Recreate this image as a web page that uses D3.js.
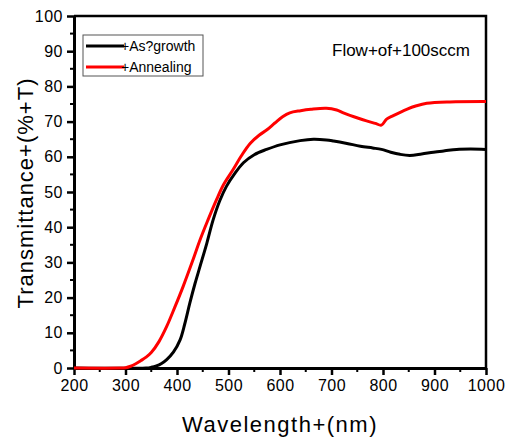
<!DOCTYPE html>
<html>
<head>
<meta charset="utf-8">
<script src="https://cdn.jsdelivr.net/npm/d3@7"></script>
<style>
  body { margin: 0; background: #fff; }
  text { font-family: "Liberation Sans", Arial, sans-serif; fill: #000; }
</style>
</head>
<body>
<div id="chart"></div>
<script>
var width = 506,
  height = 439;

// as-grown sample
var grownWl = [200, 340, 350, 360, 370, 380, 393, 406, 415, 425, 435, 445, 458, 470, 483, 496, 512, 529, 550, 574, 600, 639, 665, 690, 704, 730, 756, 780, 797, 815, 833, 852, 875, 898, 920, 943, 970, 1000];
var grownT = [0, 0, 0.2, 0.6, 1.3, 2.4, 4.5, 8, 12.5, 18.5, 24, 29, 35.5, 42, 47.5, 51.6, 55.2, 58.3, 60.6, 62.1, 63.4, 64.6, 65, 64.8, 64.5, 63.8, 63, 62.5, 62.1, 61.3, 60.7, 60.4, 60.8, 61.3, 61.7, 62.1, 62.2, 62.1];

// annealed sample
var annealWl = [200, 290, 300, 310, 320, 330, 340, 350, 365, 380, 395, 412, 430, 445, 460, 477, 490, 509, 525, 542, 560, 574, 590, 605, 619, 640, 660, 690, 710, 723, 745, 768, 785, 797, 807, 820, 846, 865, 885, 930, 1000];
var annealT = [0, 0, 0.1, 0.5, 1.2, 2.1, 3.1, 4.4, 7.5, 11.8, 17, 23.2, 30.3, 36.5, 42, 47.9, 52, 56.4, 60.3, 63.8, 66.2, 67.6, 69.6, 71.4, 72.5, 73.1, 73.5, 73.8, 73.3, 72.5, 71.3, 70.2, 69.5, 69.0, 70.7, 71.7, 73.5, 74.5, 75.2, 75.6, 75.7];

var xTicks = [200, 300, 400, 500, 600, 700, 800, 900, 1000];
var yTicks = [0, 10, 20, 30, 40, 50, 60, 70, 80, 90, 100];
var seriesNames = ["+As?growth", "+Annealing"];
var seriesColors = ["#000000", "#ff0000"];
var note = "Flow+of+100sccm";

var margin = { left: 74, right: 20, top: 16, bottom: 71 };

var svg = d3.select("#chart")
  .append("svg")
  .attr("width", width)
  .attr("height", height);

var x = d3.scaleLinear().domain([200, 1000]).range([margin.left, width - margin.right]);
var y = d3.scaleLinear().domain([0, 100]).range([height - margin.bottom, margin.top]);

var line = d3.line()
  .x(function (d) { return x(d[0]); })
  .y(function (d) { return y(d[1]); })
  .curve(d3.curveCatmullRom.alpha(0.5));

var series = [d3.zip(grownWl, grownT), d3.zip(annealWl, annealT)];

// frame (top / right)
svg.append("path")
  .attr("d", "M" + x(200) + "," + y(100) + "H" + x(1000) + "V" + y(0))
  .attr("fill", "none")
  .attr("stroke", "#000")
  .attr("stroke-width", 2.5);

// minor ticks
var xMinor = d3.range(250, 1000, 100);
var yMinor = d3.range(5, 100, 10);

svg.append("g").selectAll("line")
  .data(xMinor).enter().append("line")
  .attr("x1", function (d) { return x(d); })
  .attr("x2", function (d) { return x(d); })
  .attr("y1", y(0))
  .attr("y2", y(0) + 4)
  .attr("stroke", "#000")
  .attr("stroke-width", 2);

svg.append("g").selectAll("line")
  .data(yMinor).enter().append("line")
  .attr("y1", function (d) { return y(d); })
  .attr("y2", function (d) { return y(d); })
  .attr("x1", x(200))
  .attr("x2", x(200) - 4)
  .attr("stroke", "#000")
  .attr("stroke-width", 2);

var xAxis = svg.append("g")
  .attr("transform", "translate(0," + y(0) + ")")
  .call(d3.axisBottom(x).tickValues(xTicks).tickFormat(d3.format("d")).tickSize(7).tickPadding(5).tickSizeOuter(0));

var yAxis = svg.append("g")
  .attr("transform", "translate(" + x(200) + ",0)")
  .call(d3.axisLeft(y).tickValues(yTicks).tickFormat(d3.format("d")).tickSize(7).tickPadding(4).tickSizeOuter(0));

[xAxis, yAxis].forEach(function (g) {
  g.select(".domain").attr("stroke-width", 3);
  g.selectAll(".tick line").attr("stroke-width", 2.5);
  g.selectAll(".tick text")
    .style("font-size", "16px")
    .style("letter-spacing", "0.5px")
    .style("font-family", "Liberation Sans, Arial, sans-serif");
});

// curves
svg.append("g").selectAll("path")
  .data(series).enter().append("path")
  .attr("d", line)
  .attr("fill", "none")
  .attr("stroke", function (d, i) { return seriesColors[i]; })
  .attr("stroke-width", 3)
  .attr("stroke-linejoin", "round");

// legend
var legend = svg.append("g");
legend.append("rect")
  .attr("x", 83).attr("y", 35)
  .attr("width", 120).attr("height", 41)
  .attr("fill", "#fff")
  .attr("stroke", "#555")
  .attr("stroke-width", 1);

seriesNames.forEach(function (name, i) {
  var ly = 46 + i * 21;
  legend.append("line")
    .attr("x1", 86).attr("x2", 124)
    .attr("y1", ly).attr("y2", ly)
    .attr("stroke", seriesColors[i])
    .attr("stroke-width", 3);
  legend.append("text")
    .attr("x", 121).attr("y", ly + 5)
    .style("font-size", "14px")
    .text(name);
});

svg.append("text")
  .attr("x", 332).attr("y", 56)
  .style("font-size", "17px")
  .text(note);

// axis titles
svg.append("text")
  .attr("x", 280).attr("y", 432)
  .attr("text-anchor", "middle")
  .style("font-size", "22px")
  .style("letter-spacing", "1.5px")
  .text("Wavelength+(nm)");

svg.append("text")
  .attr("transform", "translate(33,193) rotate(-90)")
  .attr("text-anchor", "middle")
  .style("font-size", "22px")
  .style("letter-spacing", "1px")
  .text("Transmittance+(%+T)");
</script>
</body>
</html>
